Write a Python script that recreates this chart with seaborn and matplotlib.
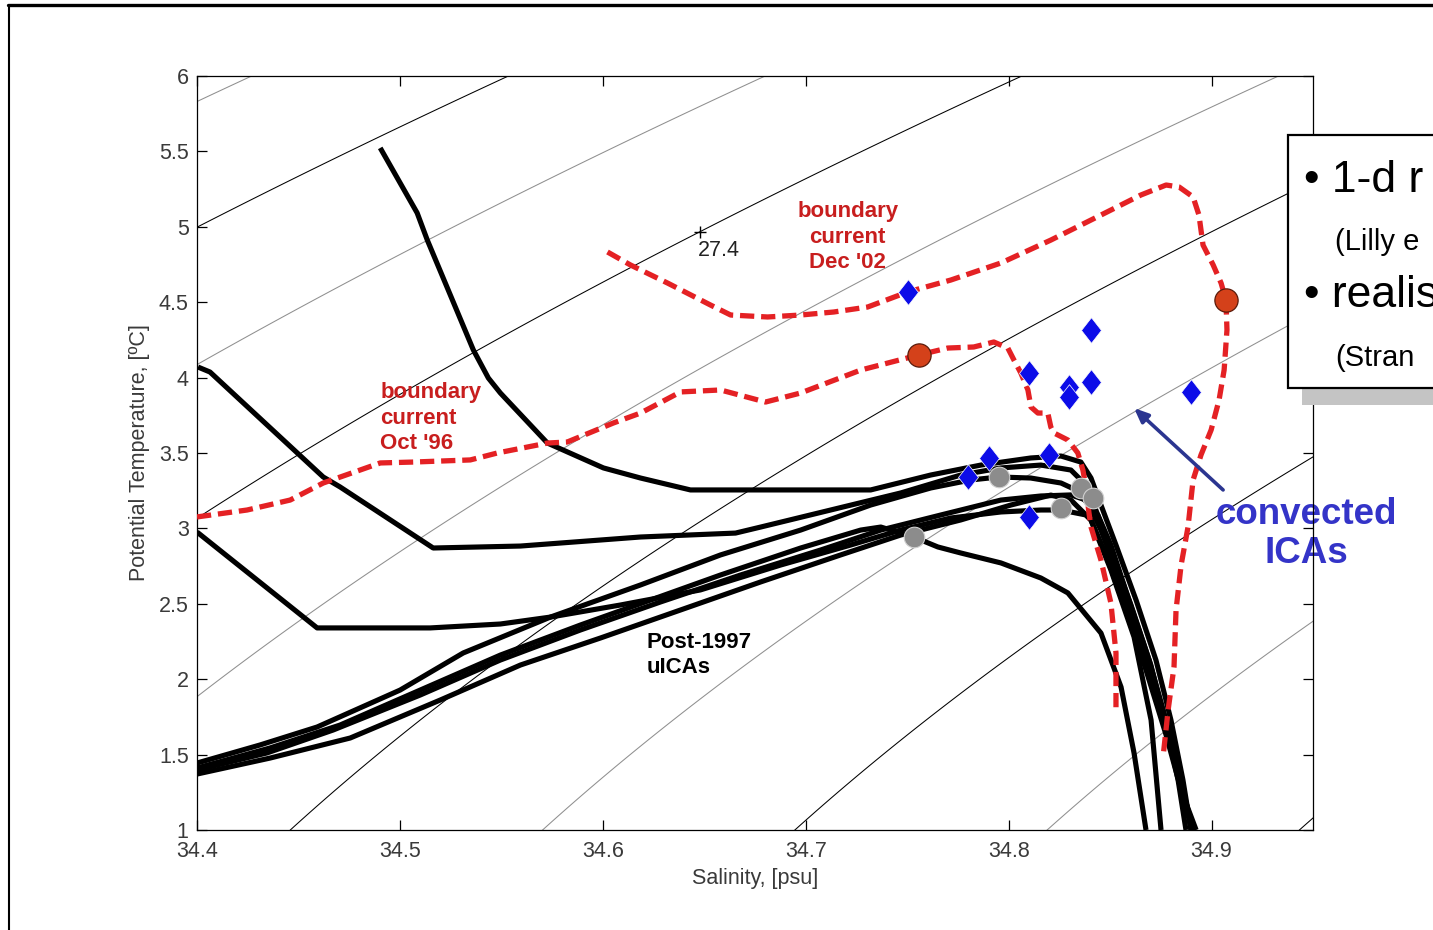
import numpy as np
import pandas as pd
import matplotlib
matplotlib.use("Agg")
import matplotlib.pyplot as plt
from matplotlib.lines import Line2D
from matplotlib.patches import Rectangle
import seaborn as sns

# ---------------------------------------------------------------------------
# Temperature-salinity profiles (salinity [psu], potential temperature [degC])
# ---------------------------------------------------------------------------
PROFILE_1_SAL = [34.4903, 34.5085, 34.5135, 34.5362, 34.5436, 34.5495, 34.5727, 34.6003,
                 34.6186, 34.6432, 34.6827, 34.7320, 34.7616, 34.7863, 34.8109, 34.8258,
                 34.8356, 34.8406, 34.8455, 34.8529, 34.8628, 34.8726, 34.8800, 34.8859, 34.8899]
PROFILE_1_TEMP = [5.523, 5.092, 4.912, 4.183, 3.997, 3.898, 3.566, 3.401,
                  3.334, 3.255, 3.255, 3.255, 3.354, 3.420, 3.467, 3.480,
                  3.440, 3.334, 3.155, 2.890, 2.525, 2.127, 1.729, 1.332, 1.000]

PROFILE_2_SAL = [34.4005, 34.4064, 34.4622, 34.4705, 34.5164, 34.5594, 34.6186, 34.6654,
                 34.6778, 34.7123, 34.7468, 34.7764, 34.7962, 34.8159, 34.8307, 34.8381,
                 34.8430, 34.8504, 34.8603, 34.8701, 34.8776, 34.8835, 34.8874]
PROFILE_2_TEMP = [4.070, 4.037, 3.341, 3.275, 2.870, 2.883, 2.943, 2.969,
                  3.009, 3.122, 3.235, 3.354, 3.401, 3.420, 3.387, 3.288,
                  3.122, 2.857, 2.492, 2.094, 1.696, 1.332, 1.000]

PROFILE_3_SAL = [34.4000, 34.4592, 34.5149, 34.5495, 34.5742, 34.6087, 34.6481, 34.6876,
                 34.7222, 34.7468, 34.7715, 34.7962, 34.8159, 34.8258, 34.8381, 34.8405,
                 34.8504, 34.8618, 34.8702, 34.8751]
PROFILE_3_TEMP = [2.976, 2.340, 2.340, 2.366, 2.412, 2.492, 2.592, 2.757,
                  2.890, 2.989, 3.069, 3.109, 3.122, 3.122, 3.089, 3.056,
                  2.724, 2.280, 1.729, 1.000]

PROFILE_4_SAL = [34.4000, 34.4360, 34.4705, 34.5100, 34.5495, 34.5889, 34.6235, 34.6580,
                 34.6975, 34.7271, 34.7370, 34.7532, 34.7651, 34.7764, 34.7962, 34.8159,
                 34.8292, 34.8455, 34.8554, 34.8618, 34.8677]
PROFILE_4_TEMP = [1.411, 1.544, 1.696, 1.928, 2.160, 2.359, 2.525, 2.691,
                  2.870, 2.989, 3.009, 2.943, 2.877, 2.837, 2.771, 2.671,
                  2.572, 2.306, 1.948, 1.511, 1.000]

PROFILE_5_SAL = [34.4000, 34.4311, 34.4592, 34.5001, 34.5312, 34.5742, 34.6186, 34.6580,
                 34.6975, 34.7320, 34.7616, 34.7813, 34.7952, 34.8109, 34.8258, 34.8332,
                 34.8396, 34.8455, 34.8529, 34.8628, 34.8726, 34.8800, 34.8859, 34.8909]
PROFILE_5_TEMP = [1.444, 1.564, 1.683, 1.928, 2.174, 2.412, 2.625, 2.824,
                  2.989, 3.155, 3.268, 3.321, 3.341, 3.334, 3.301, 3.255,
                  3.155, 2.989, 2.724, 2.326, 1.928, 1.597, 1.265, 1.000]

PROFILE_6_SAL = [34.4000, 34.4345, 34.4671, 34.5100, 34.5495, 34.5889, 34.6284, 34.6679,
                 34.7074, 34.7370, 34.7666, 34.7962, 34.8159, 34.8307, 34.8381, 34.8440,
                 34.8504, 34.8593, 34.8692, 34.8776, 34.8850, 34.8899]
PROFILE_6_TEMP = [1.398, 1.511, 1.663, 1.895, 2.127, 2.326, 2.512, 2.691,
                  2.857, 2.989, 3.089, 3.188, 3.215, 3.222, 3.188, 3.089,
                  2.890, 2.525, 2.127, 1.729, 1.332, 1.000]

PROFILE_7_SAL = [34.4000, 34.4360, 34.4755, 34.5199, 34.5594, 34.5988, 34.6383, 34.6778,
                 34.7172, 34.7468, 34.7764, 34.8011, 34.8208, 34.8307, 34.8406, 34.8480,
                 34.8578, 34.8677, 34.8776, 34.8850, 34.8924]
PROFILE_7_TEMP = [1.371, 1.477, 1.610, 1.862, 2.094, 2.273, 2.459, 2.645,
                  2.824, 2.956, 3.056, 3.155, 3.221, 3.188, 3.056, 2.824,
                  2.459, 2.061, 1.630, 1.265, 1.000]

# Boundary-current sections
OCT96_SAL = [34.4000, 34.4247, 34.4459, 34.4622, 34.4903, 34.5066, 34.5347, 34.5480,
             34.5727, 34.5825, 34.6052, 34.6186, 34.6383, 34.6580, 34.6802, 34.6975,
             34.7271, 34.7557, 34.7700, 34.7828, 34.7927, 34.7996, 34.8026, 34.8060,
             34.8095, 34.8110, 34.8144, 34.8193, 34.8208, 34.8223, 34.8292, 34.8341,
             34.8366, 34.8381, 34.8396, 34.8406, 34.8455, 34.8504, 34.8529, 34.8529]
OCT96_TEMP = [3.076, 3.122, 3.188, 3.301, 3.434, 3.440, 3.454, 3.500,
              3.566, 3.573, 3.699, 3.765, 3.905, 3.918, 3.838, 3.898,
              4.050, 4.150, 4.196, 4.203, 4.236, 4.196, 4.117, 4.031,
              3.918, 3.805, 3.765, 3.765, 3.672, 3.633, 3.586, 3.500,
              3.387, 3.275, 3.102, 3.009, 2.790, 2.505, 2.174, 1.776]

DEC02_SAL = [34.6023, 34.6136, 34.6319, 34.6531, 34.6630, 34.6812, 34.6975, 34.7138,
             34.7305, 34.7503, 34.7715, 34.7962, 34.8208, 34.8455, 34.8652, 34.8776,
             34.8840, 34.8909, 34.8938, 34.8958, 34.9008, 34.9047, 34.9071, 34.9076,
             34.9062, 34.9037, 34.8998, 34.8948, 34.8909, 34.8884, 34.8850, 34.8825,
             34.8815, 34.8786, 34.8761]
DEC02_TEMP = [4.833, 4.747, 4.627, 4.481, 4.415, 4.402, 4.415, 4.435,
              4.468, 4.568, 4.647, 4.760, 4.912, 5.078, 5.211, 5.277,
              5.264, 5.198, 5.078, 4.879, 4.747, 4.627, 4.515, 4.316,
              4.050, 3.851, 3.653, 3.487, 3.321, 3.009, 2.757, 2.459,
              2.081, 1.796, 1.484]

# Point observations
ICA_SAL = [34.7503, 34.8406, 34.8100, 34.8297, 34.8297, 34.8406, 34.8899, 34.7902,
           34.7799, 34.8198, 34.8100]
ICA_TEMP = [4.568, 4.316, 4.031, 3.938, 3.871, 3.971, 3.905, 3.467,
            3.341, 3.487, 3.076]
CORE_SAL = [34.7952, 34.8356, 34.8415, 34.8258, 34.7532]
CORE_TEMP = [3.341, 3.268, 3.202, 3.135, 2.943]
BC_CORE_SAL = [34.7557, 34.9071]
BC_CORE_TEMP = [4.150, 4.515]

# Axes ticks
X_TICKS = [34.4, 34.5, 34.6, 34.7, 34.8, 34.9]
X_TICK_LABELS = ["34.4", "34.5", "34.6", "34.7", "34.8", "34.9"]
Y_TICKS = [1, 1.5, 2, 2.5, 3, 3.5, 4, 4.5, 5, 5.5, 6]
Y_TICK_LABELS = ["1", "1.5", "2", "2.5", "3", "3.5", "4", "4.5", "5", "5.5", "6"]
SIGMA_LEVELS = [27.1, 27.2, 27.3, 27.4, 27.5, 27.6, 27.7, 27.8, 27.9, 28.0]
LABELLED_SIGMA = 27.4
LABEL_SAL = 34.648


def sigma0(s, t):
    """UNESCO (1983) density anomaly at the sea surface."""
    rho_w = (999.842594 + 6.793952e-2 * t - 9.095290e-3 * t ** 2 + 1.001685e-4 * t ** 3
             - 1.120083e-6 * t ** 4 + 6.536332e-9 * t ** 5)
    a = 0.824493 - 4.0899e-3 * t + 7.6438e-5 * t ** 2 - 8.2467e-7 * t ** 3 + 5.3875e-9 * t ** 4
    b = -5.72466e-3 + 1.0227e-4 * t - 1.6546e-6 * t ** 2
    return rho_w + a * s + b * s ** 1.5 + 4.8314e-4 * s ** 2 - 1000.0


def temp_on_isopycnal(s, sig, lo=-1.0, hi=10.0):
    for _ in range(60):
        mid = 0.5 * (lo + hi)
        if sigma0(s, mid) > sig:
            lo = mid
        else:
            hi = mid
    return 0.5 * (lo + hi)


# ---------------------------------------------------------------------------
sns.set_theme(style="ticks")
plt.rcParams["font.family"] = ["Liberation Sans", "DejaVu Sans"]

W, H = 1433, 930
fig = plt.figure(figsize=(W / 100, H / 100), dpi=100)
fig.patch.set_facecolor("white")


def fx(px):
    return px / W


def fy(py):
    return 1 - py / H


ax = fig.add_axes([fx(197), fy(830), fx(1313) - fx(197), fy(76) - fy(830)])
ax.set_facecolor("white")

# Isopycnals
s_grid = np.linspace(34.38, 34.97, 300)
t_grid = np.linspace(0.9, 6.1, 300)
SS, TT = np.meshgrid(s_grid, t_grid)
SIG = sigma0(SS, TT)
contour_colors = ["black" if round(lv * 10) % 2 == 0 else "#8f8f8f" for lv in SIGMA_LEVELS]
ax.contour(SS, TT, SIG, levels=SIGMA_LEVELS, colors=contour_colors, linewidths=0.75, zorder=1)

t_lab = temp_on_isopycnal(LABEL_SAL, LABELLED_SIGMA)
ax.plot([LABEL_SAL], [t_lab], marker="+", ms=9, mew=1.0, color="black", zorder=2)
ax.annotate(f"{LABELLED_SIGMA:.1f}", xy=(LABEL_SAL, t_lab), xytext=(-2, -6),
            textcoords="offset points", ha="left", va="top", fontsize=15.5, color="#222222",
            zorder=2)

# Profiles
profiles = [
    (PROFILE_1_SAL, PROFILE_1_TEMP), (PROFILE_2_SAL, PROFILE_2_TEMP),
    (PROFILE_3_SAL, PROFILE_3_TEMP), (PROFILE_4_SAL, PROFILE_4_TEMP),
    (PROFILE_5_SAL, PROFILE_5_TEMP), (PROFILE_6_SAL, PROFILE_6_TEMP),
    (PROFILE_7_SAL, PROFILE_7_TEMP),
]
for sal, temp in profiles:
    sns.lineplot(x=sal, y=temp, sort=False, estimator=None, color="black", lw=3.7,
                 legend=False, ax=ax, zorder=3, solid_joinstyle="round",
                 solid_capstyle="butt")

# Boundary current sections
for sal, temp in [(OCT96_SAL, OCT96_TEMP), (DEC02_SAL, DEC02_TEMP)]:
    sns.lineplot(x=sal, y=temp, sort=False, estimator=None, color="#e42124", lw=3.8,
                 linestyle=(0, (2.7, 1.3)), legend=False, ax=ax, zorder=4)

# Markers
diamond = [(0, 1), (0.78, 0), (0, -1), (-0.78, 0), (0, 1)]
sns.scatterplot(x=ICA_SAL, y=ICA_TEMP, marker=diamond, s=340, color="#0c0ce8",
                edgecolor="white", linewidth=0.5, legend=False, ax=ax, zorder=6)
sns.scatterplot(x=CORE_SAL, y=CORE_TEMP, marker="o", s=220, color="#8c8c8c",
                edgecolor="#d0d0d0", linewidth=0.8, legend=False, ax=ax, zorder=6)
sns.scatterplot(x=BC_CORE_SAL, y=BC_CORE_TEMP, marker="o", s=280, color="#d4411a",
                edgecolor="#5a1a0a", linewidth=0.9, legend=False, ax=ax, zorder=6)

# Annotations
red_txt = "#c81e1e"
ax.text(34.7207, 4.932, "boundary\ncurrent\nDec '02", color=red_txt, fontsize=16,
        fontweight="bold", ha="center", va="center", multialignment="center",
        linespacing=1.3, zorder=7)
ax.text(34.4903, 3.732, "boundary\ncurrent\nOct '96", color=red_txt, fontsize=16,
        fontweight="bold", ha="left", va="center", linespacing=1.3, zorder=7)
ax.text(34.6215, 2.160, "Post-1997\nuICAs", color="black", fontsize=16,
        fontweight="bold", ha="left", va="center", linespacing=1.3, zorder=7)
ax.annotate("", xy=(34.8618, 3.798), xytext=(34.9057, 3.255),
            arrowprops=dict(arrowstyle="-|>,head_length=0.7,head_width=0.3",
                            color="#2b3590", lw=2.6, shrinkA=0, shrinkB=0),
            zorder=7)
ax.text(34.9466, 2.96, "convected\nICAs", color="#3434c8", fontsize=26.5,
        fontweight="bold", ha="center", va="center", multialignment="center",
        linespacing=1.15, clip_on=False, zorder=1)

# Axes styling
ax.set_xlim(34.4, 34.95)
ax.set_ylim(1, 6)
ax.set_xticks(X_TICKS)
ax.set_xticklabels(X_TICK_LABELS)
ax.set_yticks(Y_TICKS)
ax.set_yticklabels(Y_TICK_LABELS)
ax.tick_params(direction="in", length=7, width=0.9, top=True, right=True,
               labelsize=15.5, labelcolor="#3a3a3a", color="black", pad=6)
ax.tick_params(axis="x", pad=8)
for sp in ax.spines.values():
    sp.set_visible(True)
    sp.set_color("black")
    sp.set_linewidth(0.9)
ax.set_xlabel("Salinity, [psu]", fontsize=15.5, color="#3a3a3a", labelpad=4)
ax.set_ylabel("Potential Temperature, [\u00baC]", fontsize=15.5, color="#3a3a3a",
              labelpad=6)

# Text box on the right with shadow
fig.add_artist(Rectangle((fx(1302), fy(405)), fx(1450) - fx(1302), fy(150) - fy(405),
                         transform=fig.transFigure, facecolor="#c4c4c4",
                         edgecolor="none", zorder=8))
fig.add_artist(Rectangle((fx(1288), fy(388)), fx(1460) - fx(1288), fy(135) - fy(388),
                         transform=fig.transFigure, facecolor="white",
                         edgecolor="black", linewidth=1.6, zorder=9))
fig.text(fx(1304), fy(192), "\u2022 1-d r", fontsize=32, color="black",
         ha="left", va="baseline", zorder=10)
fig.text(fx(1335), fy(250), "(Lilly e", fontsize=21, color="black",
         ha="left", va="baseline", zorder=10)
fig.text(fx(1304), fy(307), "\u2022 realis", fontsize=32, color="black",
         ha="left", va="baseline", zorder=10)
fig.text(fx(1335), fy(366), "(Stran", fontsize=21, color="black",
         ha="left", va="baseline", zorder=10)

# Slide frame
fig.add_artist(Line2D([fx(8), 1.0], [fy(5), fy(5)], transform=fig.transFigure,
                      color="black", lw=2.4, zorder=11))
fig.add_artist(Line2D([fx(9), fx(9)], [fy(5), 0.0], transform=fig.transFigure,
                      color="black", lw=1.5, zorder=11))

fig.savefig("out.png", dpi=100, facecolor="white")
